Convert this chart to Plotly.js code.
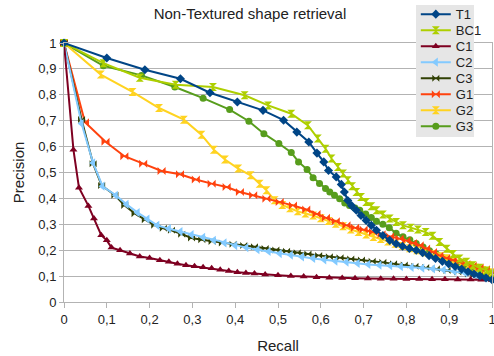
<!DOCTYPE html>
<html>
<head>
<meta charset="utf-8">
<script src="https://cdn.plot.ly/plotly-3.0.1.min.js"></script>
<style>
html,body{margin:0;padding:0;background:#fff;}
#chart{width:494px;height:356px;}
</style>
</head>
<body>
<div id="chart"></div>
<script>
// Series names (legend order)
var seriesNames = ["T1", "BC1", "C1", "C2", "C3", "G1", "G2", "G3"];

var t1X = [0, 0.100, 0.189, 0.272, 0.341, 0.405, 0.465, 0.513, 0.544, 0.572, 0.591, 0.607, 0.618, 0.636, 0.648, 0.655, 0.663, 0.672, 0.683, 0.694, 0.706, 0.718, 0.730, 0.745, 0.761, 0.776, 0.791, 0.807, 0.823, 0.838, 0.853, 0.868, 0.884, 0.899, 0.914, 0.929, 0.944, 0.958, 0.972, 0.986, 1.0];
var t1Y = [1, 0.942, 0.897, 0.862, 0.808, 0.772, 0.740, 0.702, 0.656, 0.618, 0.575, 0.541, 0.508, 0.483, 0.454, 0.425, 0.392, 0.372, 0.354, 0.334, 0.315, 0.296, 0.277, 0.257, 0.238, 0.225, 0.215, 0.207, 0.200, 0.190, 0.179, 0.168, 0.157, 0.147, 0.137, 0.127, 0.117, 0.108, 0.101, 0.093, 0.086];

var bc1X = [0, 0.092, 0.177, 0.261, 0.348, 0.422, 0.477, 0.531, 0.570, 0.593, 0.611, 0.625, 0.640, 0.652, 0.663, 0.673, 0.683, 0.694, 0.706, 0.718, 0.730, 0.745, 0.761, 0.776, 0.792, 0.810, 0.827, 0.845, 0.861, 0.877, 0.894, 0.909, 0.924, 0.940, 0.955, 0.971, 0.987, 1.0];
var bc1Y = [1, 0.922, 0.866, 0.839, 0.830, 0.798, 0.759, 0.727, 0.682, 0.631, 0.592, 0.554, 0.521, 0.496, 0.470, 0.447, 0.425, 0.405, 0.386, 0.370, 0.354, 0.338, 0.322, 0.309, 0.296, 0.287, 0.280, 0.270, 0.256, 0.232, 0.206, 0.185, 0.168, 0.155, 0.142, 0.132, 0.122, 0.110];

var c1X = [0, 0.022, 0.035, 0.057, 0.070, 0.087, 0.100, 0.111, 0.131, 0.154, 0.177, 0.200, 0.224, 0.245, 0.265, 0.285, 0.305, 0.325, 0.345, 0.365, 0.385, 0.405, 0.425, 0.445, 0.470, 0.500, 0.530, 0.560, 0.590, 0.620, 0.650, 0.680, 0.710, 0.740, 0.770, 0.800, 0.830, 0.860, 0.890, 0.920, 0.950, 0.975, 1.0];
var c1Y = [1, 0.588, 0.441, 0.371, 0.322, 0.258, 0.238, 0.210, 0.200, 0.187, 0.176, 0.170, 0.161, 0.155, 0.148, 0.142, 0.138, 0.134, 0.130, 0.125, 0.120, 0.115, 0.112, 0.110, 0.106, 0.103, 0.100, 0.098, 0.096, 0.094, 0.093, 0.092, 0.091, 0.090, 0.090, 0.089, 0.089, 0.088, 0.088, 0.087, 0.087, 0.086, 0.085];

var c2X = [0, 0.041, 0.068, 0.090, 0.121, 0.146, 0.172, 0.195, 0.218, 0.245, 0.272, 0.298, 0.325, 0.350, 0.375, 0.400, 0.426, 0.452, 0.478, 0.504, 0.530, 0.556, 0.582, 0.608, 0.634, 0.660, 0.686, 0.711, 0.737, 0.762, 0.787, 0.812, 0.837, 0.862, 0.887, 0.912, 0.937, 0.962, 0.985, 1.0];
var c2Y = [1, 0.689, 0.537, 0.447, 0.412, 0.377, 0.345, 0.320, 0.296, 0.283, 0.272, 0.260, 0.250, 0.238, 0.228, 0.218, 0.210, 0.202, 0.195, 0.187, 0.181, 0.174, 0.168, 0.163, 0.158, 0.154, 0.149, 0.145, 0.142, 0.140, 0.137, 0.134, 0.131, 0.128, 0.124, 0.118, 0.112, 0.104, 0.095, 0.088];

var c3X = [0, 0.041, 0.068, 0.088, 0.119, 0.142, 0.166, 0.190, 0.212, 0.232, 0.251, 0.275, 0.298, 0.322, 0.346, 0.370, 0.395, 0.420, 0.445, 0.470, 0.495, 0.520, 0.545, 0.570, 0.595, 0.620, 0.645, 0.670, 0.695, 0.720, 0.745, 0.770, 0.795, 0.820, 0.845, 0.870, 0.895, 0.920, 0.945, 0.970, 1.0];
var c3Y = [1, 0.705, 0.534, 0.450, 0.412, 0.373, 0.341, 0.318, 0.296, 0.285, 0.277, 0.262, 0.247, 0.240, 0.234, 0.228, 0.223, 0.218, 0.213, 0.207, 0.201, 0.196, 0.190, 0.185, 0.180, 0.175, 0.171, 0.166, 0.162, 0.157, 0.153, 0.148, 0.143, 0.138, 0.133, 0.128, 0.122, 0.116, 0.108, 0.100, 0.090];

var g1X = [0, 0.049, 0.097, 0.141, 0.185, 0.228, 0.271, 0.308, 0.345, 0.380, 0.411, 0.442, 0.473, 0.504, 0.535, 0.566, 0.590, 0.612, 0.635, 0.660, 0.680, 0.700, 0.722, 0.742, 0.762, 0.784, 0.800, 0.815, 0.831, 0.846, 0.862, 0.877, 0.893, 0.908, 0.924, 0.940, 0.955, 0.971, 0.986, 1.0];
var g1Y = [1, 0.694, 0.619, 0.563, 0.534, 0.506, 0.493, 0.473, 0.457, 0.444, 0.425, 0.412, 0.399, 0.386, 0.373, 0.357, 0.340, 0.325, 0.312, 0.296, 0.287, 0.280, 0.270, 0.262, 0.253, 0.245, 0.237, 0.228, 0.219, 0.207, 0.193, 0.180, 0.170, 0.161, 0.154, 0.147, 0.140, 0.133, 0.126, 0.118];

var g2X = [0, 0.086, 0.160, 0.222, 0.280, 0.321, 0.350, 0.376, 0.407, 0.436, 0.457, 0.473, 0.492, 0.510, 0.528, 0.546, 0.564, 0.582, 0.600, 0.618, 0.635, 0.652, 0.670, 0.688, 0.706, 0.723, 0.740, 0.757, 0.774, 0.791, 0.808, 0.825, 0.842, 0.859, 0.876, 0.893, 0.910, 0.927, 0.944, 0.961, 0.978, 1.0];
var g2Y = [1, 0.878, 0.811, 0.749, 0.704, 0.646, 0.588, 0.550, 0.515, 0.489, 0.457, 0.431, 0.393, 0.375, 0.362, 0.350, 0.342, 0.334, 0.323, 0.313, 0.302, 0.292, 0.280, 0.270, 0.261, 0.251, 0.243, 0.234, 0.225, 0.216, 0.208, 0.200, 0.192, 0.185, 0.177, 0.169, 0.160, 0.150, 0.141, 0.132, 0.124, 0.115];

var g3X = [0, 0.092, 0.181, 0.259, 0.325, 0.387, 0.432, 0.467, 0.502, 0.531, 0.548, 0.568, 0.582, 0.597, 0.611, 0.621, 0.632, 0.644, 0.656, 0.667, 0.680, 0.691, 0.705, 0.718, 0.730, 0.745, 0.760, 0.776, 0.792, 0.808, 0.823, 0.839, 0.854, 0.870, 0.885, 0.900, 0.916, 0.931, 0.946, 0.961, 0.976, 0.990, 1.0];
var g3Y = [1, 0.912, 0.875, 0.830, 0.787, 0.743, 0.698, 0.650, 0.612, 0.577, 0.541, 0.512, 0.480, 0.458, 0.438, 0.425, 0.412, 0.399, 0.382, 0.373, 0.363, 0.354, 0.340, 0.326, 0.312, 0.300, 0.287, 0.265, 0.252, 0.240, 0.226, 0.212, 0.198, 0.185, 0.172, 0.160, 0.148, 0.138, 0.128, 0.120, 0.112, 0.106, 0.102];

var xTickVals = [0, 0.1, 0.2, 0.3, 0.4, 0.5, 0.6, 0.7, 0.8, 0.9, 1];
var yTickVals = [0, 0.1, 0.2, 0.3, 0.4, 0.5, 0.6, 0.7, 0.8, 0.9, 1];

var xs = [t1X, bc1X, c1X, c2X, c3X, g1X, g2X, g3X];
var ys = [t1Y, bc1Y, c1Y, c2Y, c3Y, g1Y, g2Y, g3Y];
var colors = ["#004586", "#aecf00", "#7e0021", "#83caff", "#314004", "#ff420e", "#ffd320", "#579d1c"];
var symbols = ["diamond", "hourglass", "triangle-up", "triangle-left", "bowtie", "bowtie", "hourglass", "circle"];
var sizes = [7, 8, 7, 8, 7, 8, 8, 7];

var traces = [];
for (var i = seriesNames.length - 1; i >= 0; i--) {
  traces.push({
    type: "scatter",
    mode: "lines+markers",
    name: seriesNames[i],
    x: xs[i],
    y: ys[i],
    cliponaxis: false,
    line: {color: colors[i], width: 2},
    marker: {color: colors[i], symbol: symbols[i], size: sizes[i], line: {width: 0}}
  });
}

var font = "'Liberation Sans', Arial, sans-serif";
var layout = {
  width: 494,
  height: 356,
  margin: {l: 64, r: 2, t: 43, b: 54},
  paper_bgcolor: "#ffffff",
  plot_bgcolor: "#ffffff",
  separators: ",.",
  font: {family: font, size: 13, color: "#222222"},
  title: {
    text: "Non-Textured shape retrieval",
    font: {family: font, size: 15, color: "#222222"},
    xref: "container", x: 0.506, xanchor: "center",
    yref: "container", y: 0.962, yanchor: "middle"
  },
  xaxis: {
    range: [0, 1],
    tickvals: xTickVals,
    showgrid: false,
    zeroline: false,
    showline: true, linecolor: "#b3b3b3", linewidth: 1, mirror: true,
    ticks: "outside", ticklen: 5, tickcolor: "#b3b3b3",
    ticklabeloverflow: "allow",
    tickfont: {family: font, size: 13, color: "#222222"},
    title: {text: "Recall", font: {family: font, size: 15, color: "#222222"}, standoff: 14}
  },
  yaxis: {
    range: [0, 1],
    tickvals: yTickVals,
    showgrid: true, gridcolor: "#b3b3b3", gridwidth: 1,
    zeroline: false,
    showline: true, linecolor: "#b3b3b3", linewidth: 1, mirror: true,
    ticks: "outside", ticklen: 4, tickcolor: "#b3b3b3",
    tickfont: {family: font, size: 13, color: "#222222"},
    title: {text: "Precision", font: {family: font, size: 15, color: "#222222"}, standoff: 10}
  },
  showlegend: true,
  legend: {
    traceorder: "reversed",
    x: 0.822, xanchor: "left",
    y: 1.146, yanchor: "top",
    bgcolor: "#e6e6e6",
    borderwidth: 0,
    font: {family: font, size: 13, color: "#222222"},
    itemwidth: 30,
    tracegroupgap: 0
  }
};

Plotly.newPlot("chart", traces, layout, {displayModeBar: false, staticPlot: true}).then(function (gd) {
  // tighten legend row spacing to match the reference (16px rows)
  var legend = gd.querySelector(".legend");
  if (!legend) return;
  var items = Array.prototype.slice.call(legend.querySelectorAll(".traces"));
  var parsed = items.map(function (el) {
    var tr = el.getAttribute("transform") || "";
    var m = /translate\(\s*([-\d.eE]+)[\s,]*([-\d.eE]+)?\s*\)/.exec(tr);
    return {el: el, x: m ? parseFloat(m[1]) : 0, y: m && m[2] ? parseFloat(m[2]) : 0};
  });
  parsed.sort(function (a, b) { return a.y - b.y; });
  if (!parsed.length) return;
  var y0 = parsed[0].y - 6;
  parsed.forEach(function (p, k) {
    p.el.setAttribute("transform", "translate(" + p.x + "," + (y0 + 16 * k) + ")");
  });
  var bg = legend.querySelector(".bg");
  if (bg) {
    bg.setAttribute("height", 132);
    bg.setAttribute("width", 58);
  }
});
</script>
</body>
</html>
